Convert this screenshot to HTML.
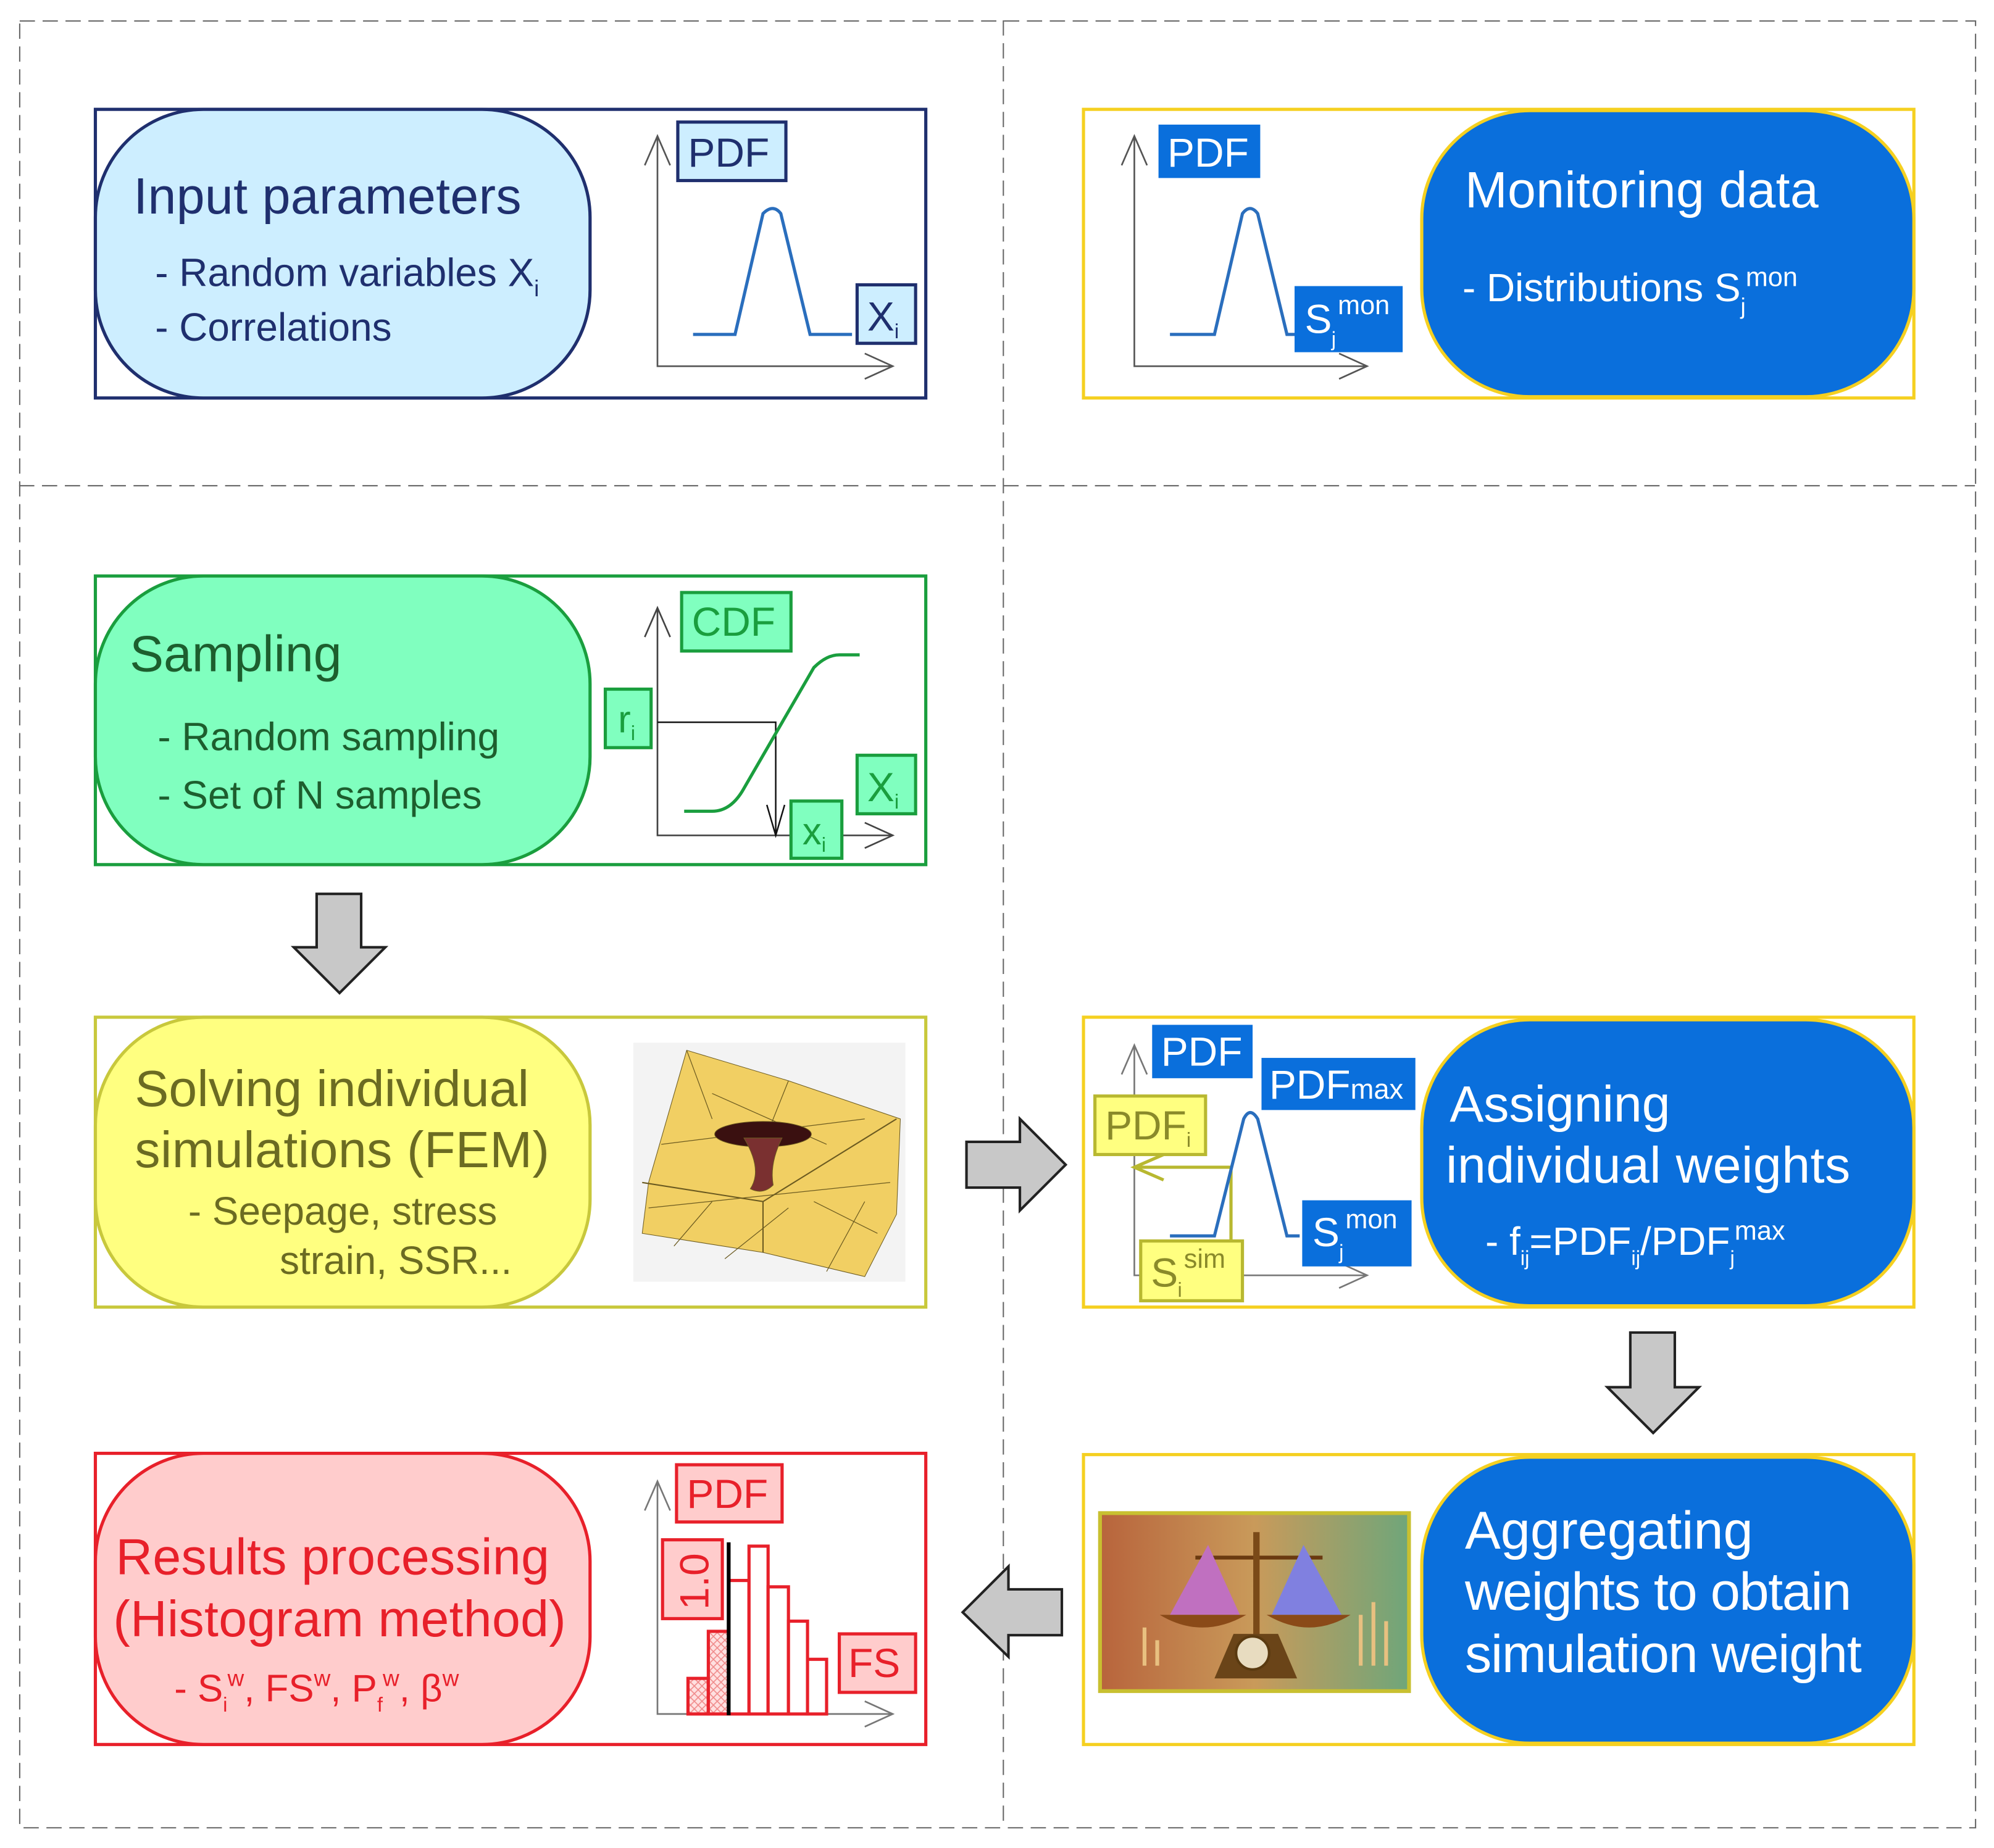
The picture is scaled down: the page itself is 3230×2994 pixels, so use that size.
<!DOCTYPE html>
<html><head><meta charset="utf-8"><style>html,body{margin:0;padding:0;background:#fff}svg{display:block;font-family:"Liberation Sans",Arial,sans-serif}</style></head>
<body>
<svg xmlns="http://www.w3.org/2000/svg" width="3230" height="2994" viewBox="0 0 1568 1453.4" preserveAspectRatio="none" font-family="'Liberation Sans', Arial, sans-serif">
<defs>
<pattern id="hatch" width="6" height="6" patternUnits="userSpaceOnUse"><rect width="6" height="6" fill="#ffe0e0"/><path d="M0 0L6 6M6 0L0 6" stroke="#f08a8a" stroke-width="0.8"/></pattern>
<linearGradient id="img" x1="0" y1="0" x2="1" y2="0"><stop offset="0" stop-color="#b8643c"/><stop offset="0.5" stop-color="#c99a5a"/><stop offset="1" stop-color="#6fa67a"/></linearGradient>
</defs>
<g stroke="#666" stroke-width="1" stroke-dasharray="12 6" fill="none">
<rect x="15.5" y="16.5" width="1538" height="1421"/>
<line x1="789" y1="16" x2="789" y2="1437"/>
<line x1="15" y1="382" x2="1553" y2="382"/>
</g>

<!-- INPUT -->
<rect x="75" y="86" width="653" height="227" fill="#fff" stroke="#1f2f6e" stroke-width="2.5"/>
<rect x="75" y="86" width="389" height="227" rx="85" fill="#cdeeff" stroke="#1f2f6e" stroke-width="2.5"/>
<text x="105" y="168" font-size="40" fill="#1f2f6e" textLength="305">Input parameters</text>
<text x="122" y="225" font-size="31" fill="#1f2f6e">- Random variables X<tspan font-size="18" dy="8">i</tspan></text>
<text x="122" y="268" font-size="31" fill="#1f2f6e">- Correlations</text>
<g stroke="#555" fill="none" stroke-width="1.3"><path d="M517 107V288H702M507 130L517 107L527 130M680 278L702 288L680 298"/></g>
<rect x="533" y="96" width="85" height="46" fill="#cdeeff" stroke="#1f2f6e" stroke-width="2.5"/>
<text x="541" y="131" font-size="32" fill="#1f2f6e">PDF</text>
<path d="M545 263H578L600 168Q608 160 614 168L637 263H670" fill="none" stroke="#2a6ebd" stroke-width="2.5"/>
<rect x="674" y="224" width="46" height="46" fill="#cdeeff" stroke="#1f2f6e" stroke-width="2.5"/>
<text x="682" y="260" font-size="32" fill="#1f2f6e">X<tspan font-size="16" dy="6">i</tspan></text>

<!-- MONITORING -->
<rect x="852" y="86" width="653" height="227" fill="#fff" stroke="#f5d020" stroke-width="2.5"/>
<rect x="1118" y="87" width="387" height="225" rx="85" fill="#0a6fdc" stroke="#f5d020" stroke-width="2.5"/>
<text x="1152" y="163" font-size="40" fill="#fff" textLength="278">Monitoring data</text>
<text x="1150" y="237" font-size="31" fill="#fff">- Distributions S<tspan font-size="18" dy="10">j</tspan><tspan font-size="21" dy="-22">mon</tspan></text>
<g stroke="#555" fill="none" stroke-width="1.3"><path d="M892 107V288H1075M882 130L892 107L902 130M1053 278L1075 288L1053 298"/></g>
<rect x="911" y="98" width="80" height="42" fill="#0a6fdc"/>
<text x="918" y="131" font-size="32" fill="#fff">PDF</text>
<path d="M920 263H955L977 168Q983 160 989 168L1012 263H1020" fill="none" stroke="#2a6ebd" stroke-width="2.5"/>
<rect x="1018" y="225" width="85" height="52" fill="#0a6fdc"/>
<text x="1026" y="262" font-size="32" fill="#fff">S</text><text x="1047" y="272" font-size="16" fill="#fff">j</text><text x="1052" y="247" font-size="21" fill="#fff">mon</text>

<!-- SAMPLING -->
<rect x="75" y="453" width="653" height="227" fill="#fff" stroke="#1a9e3e" stroke-width="2.5"/>
<rect x="75" y="453" width="389" height="227" rx="85" fill="#80ffbf" stroke="#1a9e3e" stroke-width="2.5"/>
<text x="102" y="528" font-size="40" fill="#1d5e2e">Sampling</text>
<text x="124" y="590" font-size="31" fill="#1d5e2e">- Random sampling</text>
<text x="124" y="636" font-size="31" fill="#1d5e2e">- Set of N samples</text>
<g stroke="#444" fill="none" stroke-width="1.3"><path d="M517 478V657H702M507 501L517 478L527 501M680 647L702 657L680 667"/></g>
<path d="M517 568H610V657M603 633L610 657L617 633" fill="none" stroke="#111" stroke-width="1.2"/>
<rect x="536" y="466" width="86" height="46" fill="#80ffbf" stroke="#1a9e3e" stroke-width="2.5"/>
<text x="544" y="500" font-size="32" fill="#1a9e3e">CDF</text>
<path d="M538 638H560Q575 638 585 620L640 525Q650 515 660 515H676" fill="none" stroke="#1a9e3e" stroke-width="2.5"/>
<rect x="476" y="542" width="36" height="46" fill="#80ffbf" stroke="#1a9e3e" stroke-width="2.5"/>
<text x="486" y="576" font-size="30" fill="#1a9e3e">r<tspan font-size="16" dy="6">i</tspan></text>
<rect x="674" y="594" width="46" height="46" fill="#80ffbf" stroke="#1a9e3e" stroke-width="2.5"/>
<text x="682" y="630" font-size="32" fill="#1a9e3e">X<tspan font-size="16" dy="6">i</tspan></text>
<rect x="622" y="630" width="40" height="45" fill="#80ffbf" stroke="#1a9e3e" stroke-width="2.5"/>
<text x="631" y="664" font-size="30" fill="#1a9e3e">x<tspan font-size="16" dy="6">i</tspan></text>

<path d="M249 703H284V745H303L267 781L231 745H249Z" fill="#c8c8c8" stroke="#222" stroke-width="2"/>

<!-- SOLVING -->
<rect x="75" y="800" width="653" height="228" fill="#fff" stroke="#c8c83c" stroke-width="2.5"/>
<rect x="75" y="800" width="389" height="228" rx="85" fill="#ffff80" stroke="#c8c83c" stroke-width="2.5"/>
<text x="106" y="870" font-size="40" fill="#6b6b22" textLength="310">Solving individual</text>
<text x="106" y="918" font-size="40" fill="#6b6b22" textLength="326">simulations (FEM)</text>
<text x="148" y="963" font-size="31" fill="#6b6b22">- Seepage, stress</text>
<text x="220" y="1002" font-size="31" fill="#6b6b22">strain, SSR...</text>
<rect x="498" y="820" width="214" height="188" fill="#f3f3f3"/>
<g stroke="#6b5a20" stroke-width="0.5">
<path d="M540 826L620 850L708 880L705 955L680 1004L600 985L505 970L510 930Z" fill="#f1cf63"/>
<path d="M505 930L600 945L705 880M600 945L600 985" fill="none" stroke-width="1"/>
<path d="M540 826L560 880M620 850L600 900M520 900L680 880M510 950L700 930M530 980L560 945M570 990L620 950M650 1000L680 945M690 970L640 945M560 860L650 900" fill="none" stroke-width="0.6"/>
<ellipse cx="600" cy="892" rx="38" ry="10" fill="#3a1010"/>
<path d="M585 895Q600 920 590 935Q600 940 608 932Q605 915 615 895Z" fill="#7a3030"/>
</g>

<path d="M760 898H802V880L838 916L802 952V934H760Z" fill="#c8c8c8" stroke="#222" stroke-width="2"/>

<!-- ASSIGNING -->
<rect x="852" y="800" width="653" height="228" fill="#fff" stroke="#f5d020" stroke-width="2.5"/>
<rect x="1118" y="802" width="387" height="225" rx="85" fill="#0a6fdc" stroke="#f5d020" stroke-width="2.5"/>
<text x="1140" y="882" font-size="40" fill="#fff">Assigning</text>
<text x="1137" y="930" font-size="40" fill="#fff" textLength="318">individual weights</text>
<text x="1168" y="987" font-size="31" fill="#fff">- f<tspan font-size="16" dy="8">ij</tspan><tspan dy="-8">=PDF</tspan><tspan font-size="16" dy="8">ij</tspan><tspan dy="-8">/PDF</tspan><tspan font-size="16" dy="8">j</tspan><tspan font-size="21" dy="-20">max</tspan></text>
<g stroke="#777" fill="none" stroke-width="1.3"><path d="M892 822V1003H1075M882 845L892 822L902 845M1053 993L1075 1003L1053 1013"/></g>
<path d="M968 975V918H892M915 908L892 918L915 928" fill="none" stroke="#b8b830" stroke-width="2.5"/>
<path d="M920 972H955L978 880Q983 870 989 880L1012 972H1022" fill="none" stroke="#2a6ebd" stroke-width="2.5"/>
<rect x="906" y="806" width="79" height="42" fill="#0a6fdc"/>
<text x="913" y="838" font-size="32" fill="#fff">PDF</text>
<rect x="992" y="832" width="121" height="41" fill="#0a6fdc"/>
<text x="998" y="864" font-size="32" fill="#fff">PDF<tspan font-size="22">max</tspan></text>
<rect x="861" y="862" width="87" height="46" fill="#ffff80" stroke="#b8b830" stroke-width="2.5"/>
<text x="869" y="896" font-size="32" fill="#8a8a2a">PDF<tspan font-size="16" dy="6">i</tspan></text>
<rect x="1024" y="944" width="86" height="52" fill="#0a6fdc"/>
<text x="1032" y="980" font-size="32" fill="#fff">S</text><text x="1053" y="990" font-size="16" fill="#fff">j</text><text x="1058" y="966" font-size="21" fill="#fff">mon</text>
<rect x="897" y="976" width="80" height="47" fill="#ffff80" stroke="#b8b830" stroke-width="2.5"/>
<text x="905" y="1012" font-size="32" fill="#8a8a2a">S</text><text x="926" y="1020" font-size="16" fill="#8a8a2a">i</text><text x="931" y="997" font-size="21" fill="#8a8a2a">sim</text>

<path d="M1282 1048H1317V1091H1336L1300 1127L1264 1091H1282Z" fill="#c8c8c8" stroke="#222" stroke-width="2"/>

<!-- AGGREGATING -->
<rect x="852" y="1144" width="653" height="228" fill="#fff" stroke="#f5d020" stroke-width="2.5"/>
<rect x="1118" y="1146" width="387" height="225" rx="85" fill="#0a6fdc" stroke="#f5d020" stroke-width="2.5"/>
<text x="1152" y="1218" font-size="42" fill="#fff">Aggregating</text>
<text x="1152" y="1266" font-size="42" fill="#fff" textLength="304">weights to obtain</text>
<text x="1152" y="1315" font-size="42" fill="#fff" textLength="312">simulation weight</text>
<rect x="865" y="1190" width="243" height="140" fill="url(#img)" stroke="#c8c030" stroke-width="3"/>
<g>
<path d="M900 1280V1310M910 1290V1310M1070 1270V1310M1080 1260V1310M1090 1275V1310" stroke="#e8c080" stroke-width="3"/>
<path d="M940 1225H1040" stroke="#6a3a10" stroke-width="3"/>
<path d="M988 1205V1300" stroke="#7a4a18" stroke-width="5"/>
<path d="M920 1270L950 1215L975 1270Z" fill="#c070c0"/>
<path d="M1000 1270L1025 1215L1055 1270Z" fill="#8080e0"/>
<path d="M912 1270Q945 1290 980 1270Z" fill="#8a4a18"/>
<path d="M996 1270Q1030 1290 1062 1270Z" fill="#8a4a18"/>
<path d="M955 1320L970 1285H1005L1020 1320Z" fill="#6a4418"/>
<circle cx="985" cy="1300" r="13" fill="#e8dcc0" stroke="#5a3a10" stroke-width="2"/>
</g>

<path d="M835 1250H793V1232L757 1268L793 1303V1286H835Z" fill="#c8c8c8" stroke="#222" stroke-width="2"/>

<!-- RESULTS -->
<rect x="75" y="1143" width="653" height="229" fill="#fff" stroke="#e8202a" stroke-width="2.5"/>
<rect x="75" y="1143" width="389" height="229" rx="85" fill="#ffcccc" stroke="#e8202a" stroke-width="2.5"/>
<text x="91" y="1238" font-size="40" fill="#e8202a" textLength="341">Results processing</text>
<text x="89" y="1287" font-size="40" fill="#e8202a" textLength="356">(Histogram method)</text>
<text x="137" y="1338" font-size="30" fill="#e8202a">- S<tspan font-size="16" dy="8">i</tspan><tspan font-size="18" dy="-20">w</tspan><tspan dy="12">, FS</tspan><tspan font-size="18" dy="-12">w</tspan><tspan dy="12">, P</tspan><tspan font-size="16" dy="8">f</tspan><tspan font-size="18" dy="-20">w</tspan><tspan dy="12">, β</tspan><tspan font-size="18" dy="-12">w</tspan></text>
<g stroke="#777" fill="none" stroke-width="1.3"><path d="M517 1165V1348H702M507 1188L517 1165L527 1188M680 1338L702 1348L680 1358"/></g>
<g stroke="#e8202a" stroke-width="2.5">
<rect x="541" y="1320" width="16" height="28" fill="url(#hatch)"/>
<rect x="557" y="1283" width="16" height="65" fill="url(#hatch)"/>
<rect x="573" y="1243" width="16" height="105" fill="#fff"/>
<rect x="589" y="1216" width="15" height="132" fill="#fff"/>
<rect x="604" y="1248" width="16" height="100" fill="#fff"/>
<rect x="620" y="1275" width="15" height="73" fill="#fff"/>
<rect x="635" y="1305" width="15" height="43" fill="#fff"/>
</g>
<line x1="573" y1="1213" x2="573" y2="1349" stroke="#000" stroke-width="3"/>
<rect x="532" y="1152" width="83" height="45" fill="#ffcccc" stroke="#e8202a" stroke-width="2.5"/>
<text x="540" y="1186" font-size="32" fill="#e8202a">PDF</text>
<rect x="521" y="1211" width="47" height="62" fill="#ffcccc" stroke="#e8202a" stroke-width="2.5"/>
<text transform="translate(557 1266) rotate(-90)" font-size="32" fill="#e8202a">1.0</text>
<rect x="660" y="1285" width="60" height="46" fill="#ffcccc" stroke="#e8202a" stroke-width="2.5"/>
<text x="667" y="1319" font-size="32" fill="#e8202a">FS</text>
</svg>
</body></html>
